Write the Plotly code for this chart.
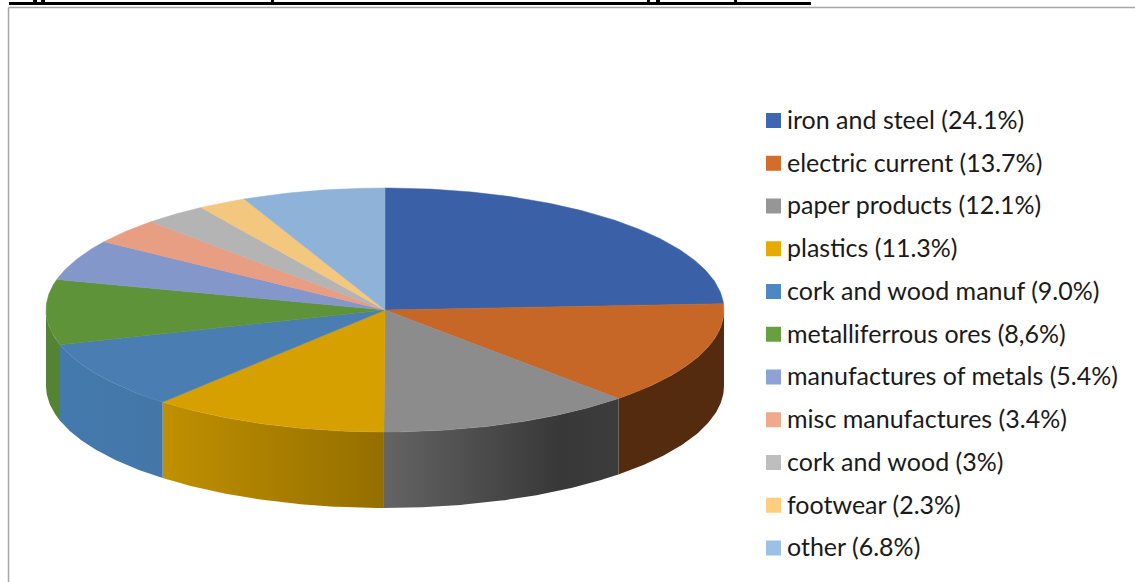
import numpy as np
import plotly.graph_objects as go

categories = ["iron and steel", "electric current", "paper products", "plastics",
              "cork and wood manuf", "metalliferrous ores", "manufactures of metals",
              "misc manufactures", "cork and wood", "footwear", "other"]
values = [24.1, 13.7, 12.1, 11.3, 9.0, 8.6, 5.4, 3.4, 3.0, 2.3, 6.8]
value_labels = ["24.1%", "13.7%", "12.1%", "11.3%", "9.0%", "8,6%", "5.4%", "3.4%", "3%", "2.3%", "6.8%"]

top_colors = ["#3A61A7", "#C66728", "#8C8C8C", "#D6A000", "#4A7EB3", "#5F933A",
              "#8497CB", "#E89E82", "#B4B4B4", "#F4C77F", "#8FB2D9"]
legend_colors = ["#3F67B1", "#D26D2A", "#969696", "#E5AB00", "#4E88C4", "#68A03F",
                 "#8DA2D5", "#EFA98C", "#BEBEBE", "#FFCD7F", "#9DC0E5"]
wall_scales = {
    1: [[0, "#552B10"], [1, "#552B10"]],
    2: [[0, "#646464"], [0.75, "#383838"], [1, "#3C3C3C"]],
    3: [[0, "#C09000"], [1, "#946E00"]],
    4: [[0, "#4479AD"], [1, "#4477A8"]],
    5: [[0, "#558334"], [1, "#558334"]],
}

CX, CY, RX, RY, DEPTH = 385.0, 310.0, 339.0, 122.0, 76.0
W, H = 1135, 582

fracs = np.array(values) / sum(values)
edges = np.concatenate([[0], np.cumsum(fracs)]) * 2 * np.pi

fig = go.Figure()


def rim(a, b, dy=0.0):
    t = np.linspace(a, b, max(3, int((b - a) * 90)))
    return CX + RX * np.sin(t), CY + dy - RY * np.cos(t)


# side walls of the disc (only the front half, pi/2..3pi/2, shows)
for i, scale in wall_scales.items():
    a, b = max(edges[i], np.pi / 2), min(edges[i + 1], 3 * np.pi / 2)
    x1, y1 = rim(a, b)
    x2, y2 = rim(a, b, DEPTH)
    fig.add_trace(go.Scatter(
        x=np.concatenate([x1, x2[::-1]]), y=np.concatenate([y1, y2[::-1]]),
        mode="lines", line=dict(width=0), fill="toself",
        fillgradient=dict(type="horizontal", colorscale=scale),
        hoverinfo="skip", showlegend=False))

# top faces
for i, c in enumerate(top_colors):
    x, y = rim(edges[i], edges[i + 1])
    fig.add_trace(go.Scatter(
        x=np.concatenate([[CX], x, [CX]]), y=np.concatenate([[CY], y, [CY]]),
        mode="lines", line=dict(width=0.5, color=c), fill="toself", fillcolor=c,
        name=categories[i], hoverinfo="name", showlegend=False))

# legend
LEG_Y0, LEG_STEP = 120.5, 42.75
leg_y = [LEG_Y0 + LEG_STEP * i for i in range(len(categories))]
fig.add_trace(go.Scatter(
    x=[773.5] * len(categories), y=leg_y, mode="markers",
    marker=dict(symbol="square", size=15, color=legend_colors, line=dict(width=0)),
    hoverinfo="skip", showlegend=False))
fig.add_trace(go.Scatter(
    x=[787] * len(categories), y=[v + 2 for v in leg_y], mode="text",
    text=[f"{c} ({v})" for c, v in zip(categories, value_labels)],
    textposition="middle right",
    textfont=dict(family="Lato", size=25, color="#1a1a1a"),
    hoverinfo="skip", showlegend=False))

shapes = [
    dict(type="rect", x0=9, x1=811, y0=2, y1=5, fillcolor="black", line_width=0),
    dict(type="line", x0=8.5, x1=8.5, y0=7.5, y1=H, line=dict(color="#A6A6A6", width=1.5)),
    dict(type="line", x0=8.5, x1=W, y0=7.5, y1=7.5, line=dict(color="#A6A6A6", width=1.5)),
]
for x0, x1 in [(33, 37), (41, 45), (271, 274), (647, 650), (656, 660), (734, 737)]:
    shapes.append(dict(type="rect", x0=x0, x1=x1, y0=0, y1=2, fillcolor="black", line_width=0))

fig.update_layout(
    width=W, height=H, autosize=False,
    margin=dict(l=0, r=0, t=0, b=0),
    paper_bgcolor="white", plot_bgcolor="white",
    showlegend=False, shapes=shapes,
    xaxis=dict(range=[0, W], visible=False, fixedrange=True),
    yaxis=dict(range=[H, 0], visible=False, fixedrange=True),
)
fig.write_html("out.html", config=dict(displayModeBar=False), post_script=(
    "document.body.style.margin='0';"
    "document.documentElement.style.overflow='hidden';"
    "document.body.style.overflow='hidden';"))
